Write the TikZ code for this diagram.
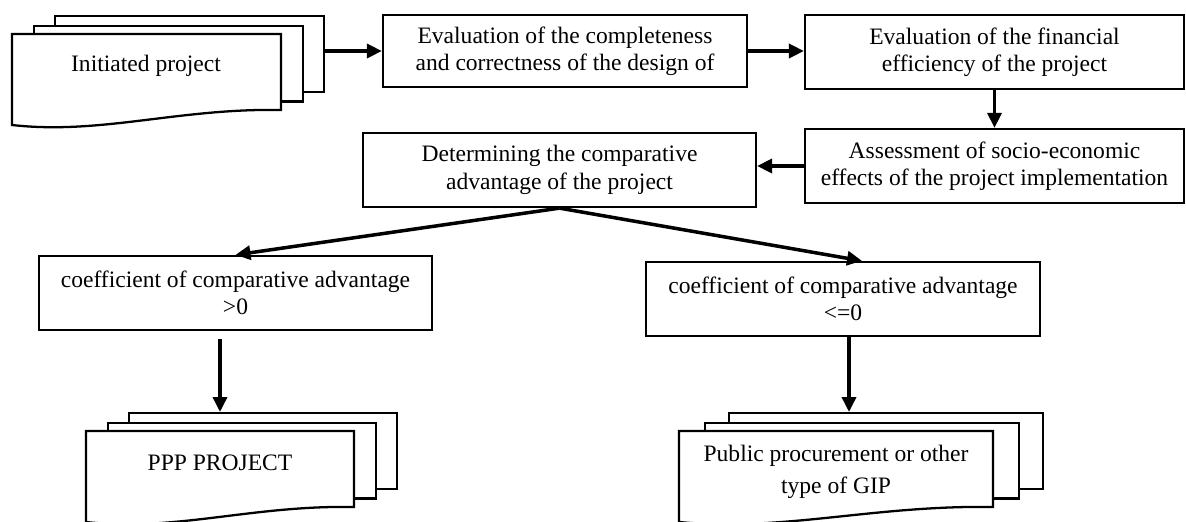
\documentclass[tikz,border=0pt]{standalone}
\usepackage{fontspec}
\setmainfont{Liberation Serif}
\usetikzlibrary{arrows.meta, calc}

% stack of three sheets, the front one with a wavy lower edge
% #1 name, #2 left x, #3 top y, #4 width, #5 step to the right
\newcommand{\pagestack}[5]{%
  \foreach \k in {2,1}
    \node[sheet, minimum width=#4*0.02cm, anchor=north west] (#1\k) at (#2+\k*#5, #3-\k*9.5) {};
  \draw[line width=1.3pt, fill=white] (#2,#3) -- ++(#4,0) -- ++(0,76)
    .. controls (#2+0.62*#4,#3+74) and (#2+0.33*#4,#3+101) .. (#2,#3+91) -- cycle;
}

\begin{document}
\begin{tikzpicture}[x=0.02cm, y=-0.02cm,
      box/.style={
        rectangle, draw, line width=1.3pt, inner sep=0pt,
        minimum height=1.48cm, align=center,
        font=\fontsize{13.4}{15.6}\selectfont
      },
      sheet/.style={
        rectangle, draw, fill=white, line width=1.3pt, inner sep=0pt,
        minimum height=1.52cm
      },
      doctext/.style={align=center, font=\fontsize{13.4}{15.6}\selectfont},
      arrow/.style={-{Triangle[length=0.3cm, width=0.28cm]}, line width=2pt}
    ]
      \clip (0,0) rectangle (1186,521);
      % --- Top row: source stack and the two evaluations ---
      \pagestack{init}{12}{34}{269}{21}
      \node[doctext] (initiated) at (146,66) {Initiated project};
      \node[box, minimum width=7.28cm, minimum height=1.44cm] (eval) at (565,51)
        {Evaluation of the completeness\\and correctness of the design of};
      \node[box, minimum width=7.58cm] (fin) at (994.5,52)
        {Evaluation of the financial\\efficiency of the project};
      % --- Second row ---
      \node[box, minimum width=7.58cm] (assess) at (994.5,166)
        {Assessment of socio-economic\\effects of the project implementation};
      \node[box, minimum width=7.86cm] (compare) at (559.5,170)
        {Determining the comparative\\advantage of the project};
      % --- The two outcomes of the coefficient ---
      \node[box, minimum width=7.86cm] (positive) at (235.5,293)
        {coefficient of comparative advantage\\>0};
      \node[box, minimum width=7.88cm] (nonpos) at (843,299)
        {coefficient of comparative advantage\\<=0};
      % --- Result stacks ---
      \pagestack{ppp}{86}{431}{268}{21}
      \node[doctext] (ppptext) at (220,463) {PPP PROJECT};
      \pagestack{gip}{679}{431}{314}{24.5}
      \node[doctext] (giptext) at (836,472) {Public procurement or other\\[3pt]type of GIP};
      % --- Arrows ---
      \draw[arrow] (init2.east |- eval.west) -- (eval.west);
      \draw[arrow] (eval.east) -- (eval.east -| fin.west);
      \draw[arrow] (fin.south) -- (assess.north);
      \draw[arrow] (assess.west) -- (assess.west -| compare.east);
      \draw[arrow] (compare.south) -- (positive.north);
      \draw[arrow] (compare.south) -- ([xshift=0.38cm]nonpos.north);
      \draw[arrow, shorten <=0.16cm] ([xshift=-0.31cm]positive.south)
        -- ([xshift=-0.31cm]positive.south |- ppp2.north);
      \draw[arrow] ([xshift=0.12cm]nonpos.south) -- ([xshift=0.12cm]nonpos.south |- gip2.north);
    \end{tikzpicture}
\end{document}
